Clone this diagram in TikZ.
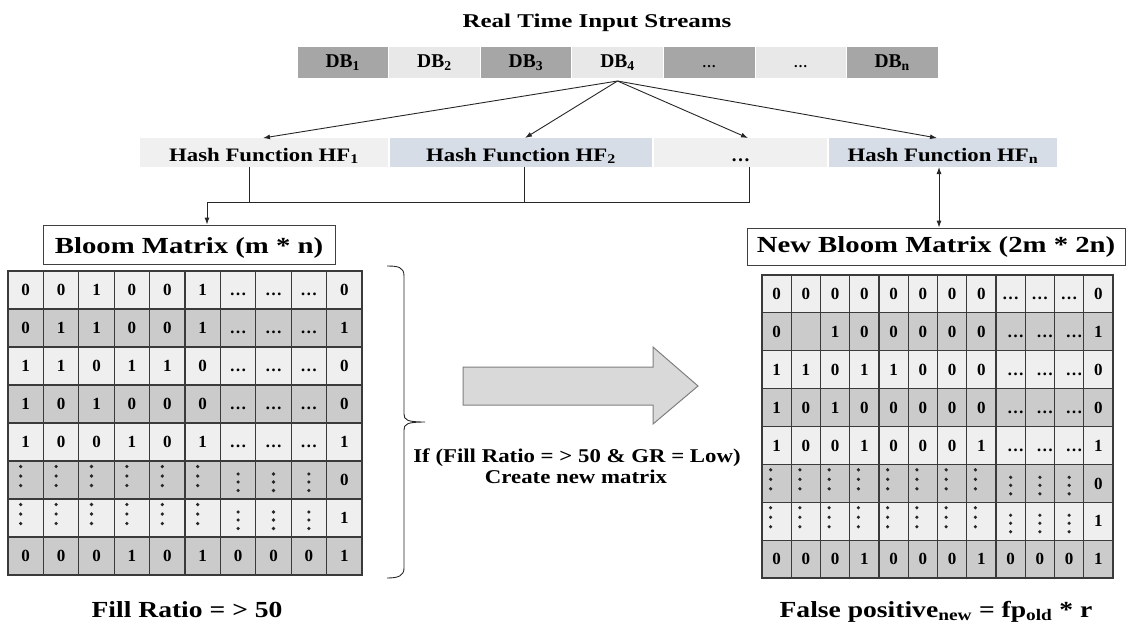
\documentclass[tikz,border=0pt]{standalone}
\usepackage{fontspec}
\usepackage{graphicx}
\setmainfont{Liberation Serif}
\usetikzlibrary{arrows.meta}
\definecolor{dbdark}{HTML}{A6A6A6}
\definecolor{dblight}{HTML}{E8E8E8}
\definecolor{hflight}{HTML}{F0F0F0}
\definecolor{hfblue}{HTML}{D7DDE6}
\definecolor{rowlight}{HTML}{EFEFEF}
\definecolor{rowdark}{HTML}{CBCBCB}
\definecolor{gridc}{HTML}{3A3A3A}
\definecolor{arrfill}{HTML}{D9D9D9}
\definecolor{arrdraw}{HTML}{7F7F7F}
\newcommand\myfs[1]{\fontsize{#1}{#1}\selectfont\bfseries}
\newcommand\sx[2]{\scalebox{#1}[1]{#2}}
\newcommand\mycell[4]{%
  \if#3V\fill[dot] ({#1+\vdx},{#2-13.5}) circle[radius=1.8pt] ({#1+\vdx},{#2-4}) circle[radius=1.8pt] ({#1+\vdx},{#2+5.5}) circle[radius=1.8pt];%
  \else\if#3W\fill[dot] (#1,{#2-6}) circle[radius=1.8pt] (#1,{#2+2}) circle[radius=1.8pt] (#1,{#2+10.5}) circle[radius=1.8pt];%
  \else\if#3E\node[cell] (#4) at (#1,#2) {…};%
  \else\if#3F\node[cell] (#4) at ({#1+5},#2) {…};%
  \else\if#3X\relax
  \else\node[cell] (#4) at (#1,#2) {#3};%
  \fi\fi\fi\fi\fi}
% #1 prefix #2 x0 #3 y0 #4 w #5 h #6 ncols #7 nrows #8 rows
\newcommand\drawmatrix[8]{%
  \foreach \ri in {1,...,#7}{%
    \pgfmathsetmacro\ya{#3+(\ri-1)*#5}%
    \pgfmathsetmacro\yb{#3+\ri*#5}%
    \ifodd\ri\relax
      \fill[rowlight] (#2,\ya) rectangle ({#2+#6*#4},\yb);
    \else
      \fill[rowdark] (#2,\ya) rectangle ({#2+#6*#4},\yb);
    \fi
  }
  \foreach \i in {0,...,#6}{\draw[gridl] ({#2+\i*#4},#3) -- ({#2+\i*#4},{#3+#7*#5});}
  \foreach \i in {0,...,#7}{\draw[gridl] (#2,{#3+\i*#5}) -- ({#2+#6*#4},{#3+\i*#5});}
  \foreach \rowl [count=\ri] in {#8}{%
    \foreach \cv [count=\ci] in \rowl {%
      \pgfmathsetmacro\cx{#2+(\ci-0.5)*#4}%
      \pgfmathsetmacro\cy{#3+(\ri-0.5)*#5}%
      \mycell{\cx}{\cy}{\cv}{#1\ri-\ci}%
    }
  }
}
\begin{document}
\begin{tikzpicture}[x=1pt,y=-1pt,
  line/.style={draw=black!85, line width=0.9pt},
  arr/.style={line, -{Latex[length=7pt,width=5pt]}},
  darr/.style={line, {Latex[length=7pt,width=5pt]}-{Latex[length=7pt,width=5pt]}},
  dbcell/.style={minimum width=91.5pt, minimum height=32pt, inner sep=0pt, outer sep=0pt, draw=white, line width=0.6pt, text height=21pt, text depth=11pt, font={\myfs{19.5}}},
  hfbox/.style={minimum height=29pt, inner sep=0pt, outer sep=0pt, text height=23pt, text depth=6pt, font={\myfs{19}}},
  lbl/.style={draw=black!75, line width=0.9pt, fill=white, inner sep=0pt, font={\myfs{23}}},
  cell/.style={inner sep=0pt, text height=11.4pt, text depth=0pt, font={\myfs{17}}},
  dot/.style={fill=black!85},
  gridl/.style={draw=gridc, line width=1.1pt, line cap=rect},
  txt/.style={inner sep=0pt, anchor=base},
]
\useasboundingbox (0,0) rectangle (1126,625);

% title
\node[txt] (title) at (597,27) {\myfs{19.5}\sx{1.28}{Real Time Input Streams}};

% input streams
\node[dbcell, fill=dbdark]  (db1) at (342.8,62) {DB\textsubscript{1}};
\node[dbcell, fill=dblight] (db2) at (434.4,62) {DB\textsubscript{2}};
\node[dbcell, fill=dbdark]  (db3) at (525.9,62) {DB\textsubscript{3}};
\node[dbcell, fill=dblight] (db4) at (617.5,62) {DB\textsubscript{4}};
\node[dbcell, fill=dbdark, font={\myfs{14}}]  (db5) at (709.1,62) {…};
\node[dbcell, fill=dblight, font={\myfs{14}}] (db6) at (800.6,62) {…};
\node[dbcell, fill=dbdark]  (db7) at (892.2,62) {DB\textsubscript{n}};

% hash functions
\node[hfbox, fill=hflight, minimum width=248pt] (hf1) at (264,152.5) {\sx{1.2}{Hash Function HF\textsubscript{1}}};
\node[hfbox, fill=hfblue, minimum width=262pt] (hf2) at (521,152.5) {\sx{1.2}{Hash Function HF\textsubscript{2}}};
\node[hfbox, fill=hflight, minimum width=173pt] (hfd) at (740.5,152.5) {…};
\node[hfbox, fill=hfblue, minimum width=228pt] (hfn) at (943,152.5) {\sx{1.2}{Hash Function HF\textsubscript{n}}};

\coordinate (src) at ([yshift=-3pt]db4.south);
\draw[arr] (src) -- ([xshift=-1pt]hf1.north);
\draw[arr] (src) -- ([xshift=4pt]hf2.north);
\draw[arr] (src) -- ([xshift=7.5pt]hfd.north);
\draw[arr] (src) -- ([xshift=-6pt]hfn.north);

% labels
\node[lbl, minimum width=292pt, minimum height=39pt, text height=28pt, text depth=11pt] (bm) at (189,244.5) {\sx{1.25}{Bloom Matrix (m * n)}};
\node[lbl, minimum width=378pt, minimum height=37pt, text height=24pt, text depth=13pt] (nbm) at (936,246.5) {\sx{1.25}{New Bloom Matrix (2m * 2n)}};

\coordinate (bus) at (207,202);
\coordinate (d1) at ([xshift=-15pt]hf1.south);
\coordinate (d2) at ([xshift=3pt]hf2.south);
\coordinate (d3) at ([xshift=8.5pt]hfd.south);
\draw[line] (d1) -- (d1 |- bus);
\draw[line] (d2) -- (d2 |- bus);
\draw[arr] (d3) |- (bus) -- ([xshift=18pt]bm.north);
\draw[darr] ([xshift=-4pt]hfn.south) -- ([xshift=3pt]nbm.north);

% matrices
\def\vdx{-5}
\drawmatrix{L}{8}{271}{35.4}{38}{10}{8}{%
  {0,0,1,0,0,1,E,E,E,0},
  {0,1,1,0,0,1,E,E,E,1},
  {1,1,0,1,1,0,E,E,E,0},
  {1,0,1,0,0,0,E,E,E,0},
  {1,0,0,1,0,1,E,E,E,1},
  {V,V,V,V,V,V,W,W,W,0},
  {V,V,V,V,V,V,W,W,W,1},
  {0,0,0,1,0,1,0,0,0,1}}
\def\vdx{-6}
\drawmatrix{R}{762}{275}{29.25}{37.875}{12}{8}{%
  {0,0,0,0,0,0,0,0,E,E,E,0},
  {0,X,1,0,0,0,0,0,F,F,F,1},
  {1,1,0,1,1,0,0,0,F,F,F,0},
  {1,0,1,0,0,0,0,0,F,F,F,0},
  {1,0,0,1,0,0,0,1,F,F,F,1},
  {V,V,V,V,V,V,V,V,W,W,W,0},
  {V,V,V,V,V,V,V,V,W,W,W,1},
  {0,0,0,1,0,0,0,1,0,0,0,1}}

% brace
\draw[line] (387,266) .. controls (398,266) and (404,267) .. (404,276) -- (404,414)
  .. controls (404,420) and (407,422) .. (425,422)
  .. controls (407,422) and (404,424) .. (404,430) -- (404,568)
  .. controls (404,576) and (398,578) .. (387,578);

% big arrow
\draw[fill=arrfill, draw=arrdraw, line width=1pt] (463,367) -- (653,367) -- (653,347) -- (698,386) -- (653,424) -- (653,405) -- (463,405) -- cycle;

% texts
\node[txt] (cond1) at (577,462) {\myfs{19.5}\sx{1.17}{If (Fill Ratio = > 50 \& GR = Low)}};
\node[txt] (cond2) at (576,483) {\myfs{19.5}\sx{1.17}{Create new matrix}};
\node[txt] (fill) at (187,617) {\myfs{23}\sx{1.2}{Fill Ratio = > 50}};
\node[txt] (fp) at (936,617) {\myfs{23}\sx{1.2}{False positive\textsubscript{new} = fp\textsubscript{old} * r}};
\end{tikzpicture}
\end{document}
